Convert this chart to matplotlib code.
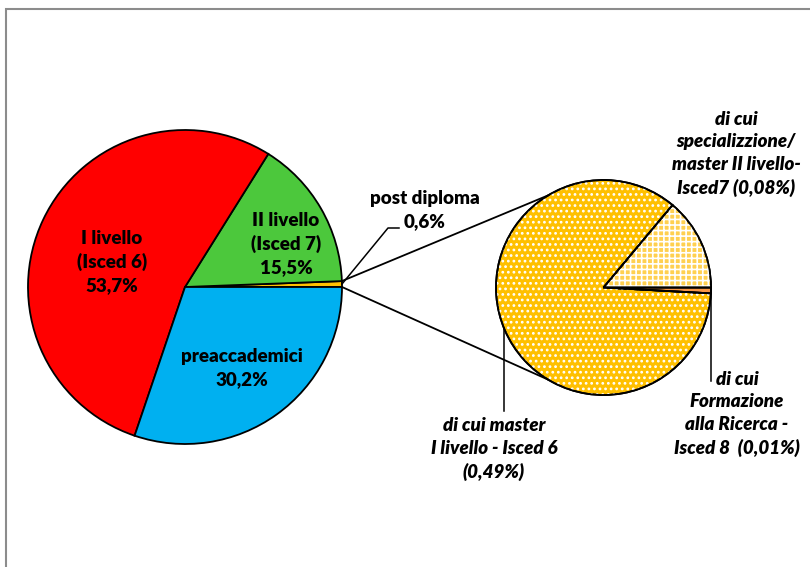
import matplotlib.pyplot as plt
import numpy as np
from matplotlib.patches import Rectangle

# ---------- dati ----------
main_labels = ["post diploma", "II livello", "I livello", "preaccademici"]
main_values = [0.6, 15.5, 53.7, 30.2]
main_texts = ["post diploma\n0,6%", "II livello\n(Isced 7)\n15,5%",
              "I livello\n(Isced 6)\n53,7%", "preaccademici\n30,2%"]
main_colors = ["#FFC000", "#4CC83C", "#FF0000", "#00B0F0"]

sub_labels = ["specializzazione/master II", "master I livello", "Formazione alla Ricerca"]
sub_values = [0.08, 0.49, 0.005]
sub_texts = ["di cui\nspecializzione/\nmaster II livello-\nIsced7 (0,08%)",
             "di cui master\nI livello - Isced 6\n(0,49%)",
             "di cui\nFormazione\nalla Ricerca -\nIsced 8  (0,01%)"]
sub_colors = ["#FFD050", "#FFC000", "#F79646"]
sub_hatch = ["+++", "...", None]

W, H = 810, 567
plt.rcParams['font.family'] = ['Lato', 'DejaVu Sans']
plt.rcParams['hatch.linewidth'] = 1.2

fig = plt.figure(figsize=(W / 100, H / 100), dpi=100)
ax = fig.add_axes([0, 0, 1, 1])

# torta principale
c1, r1 = (185, H - 287), 157
w1, _ = ax.pie(main_values, colors=main_colors, startangle=0, counterclock=True,
               center=c1, radius=r1,
               wedgeprops=dict(edgecolor="black", linewidth=1.3))

# torta secondaria (dettaglio post diploma)
c2, r2 = (603.5, H - 287.5), 107.5
w2, _ = ax.pie(sub_values, colors=sub_colors, startangle=0, counterclock=True,
               center=c2, radius=r2,
               wedgeprops=dict(edgecolor="black", linewidth=1.3))
# tratteggio bianco sopra i colori
ov = ax.pie(sub_values, startangle=0, counterclock=True, center=c2, radius=r2,
            colors=["none"] * 3)[0]
for h, o in zip(sub_hatch, ov):
    if h:
        o.set_hatch(h)
        o.set_edgecolor("white")
        o.set_linewidth(0)
    else:
        o.set_visible(False)
# bordo nero sopra il tratteggio
ax.pie(sub_values, startangle=0, counterclock=True, center=c2, radius=r2,
       colors=["none"] * 3, wedgeprops=dict(edgecolor="black", linewidth=1.3))


def pt(c, r, ang):
    a = np.deg2rad(ang)
    return c[0] + r * np.cos(a), c[1] + r * np.sin(a)


# linee di collegamento
a_post = main_values[0] / sum(main_values) * 360
p_top = pt(c1, r1, a_post)
p_bot = pt(c1, r1, 0)
q_top = pt(c2, r2, 121)
q_bot = pt(c2, r2, 239)
ax.plot([p_top[0], q_top[0]], [p_top[1], q_top[1]], color="black", lw=1.3)
ax.plot([p_bot[0], q_bot[0]], [p_bot[1], q_bot[1]], color="black", lw=1.3)

# etichette torta principale
bold = dict(fontsize=13.5, fontweight="heavy", ha="center", va="center",
            linespacing=1.4)
ax.text(112, H - 262, main_texts[2], **bold)
ax.text(286, H - 244, main_texts[1], **bold)
ax.text(242, H - 368, main_texts[3], **bold)
ax.text(425, H - 210, main_texts[0], **bold)
p_mid = pt(c1, r1, a_post / 2)
ax.plot([p_mid[0], 388, 399], [p_mid[1], H - 228, H - 228], color="black", lw=1.1)

# etichette torta secondaria
ital = dict(fontsize=13.5, fontweight="heavy", style="italic", ha="center",
            va="center", linespacing=1.4)
ax.text(736, H - 154, sub_texts[0], **ital)
ax.text(494, H - 449, sub_texts[1], **ital)
ax.text(737, H - 414, sub_texts[2], **ital)

m = pt(c2, r2, 202)
ax.plot([m[0], m[0]], [m[1], H - 411], color="black", lw=1.1)
f = pt(c2, r2, -1.5)
ax.plot([f[0], f[0]], [f[1], H - 381], color="black", lw=1.1)

ax.set_xlim(0, W)
ax.set_ylim(0, H)
ax.set_aspect("equal")
ax.axis("off")

# cornice dell'area grafico
fig.patches.append(Rectangle((6 / W, -0.1), 1.2, (H - 9) / H + 0.1,
                             transform=fig.transFigure, fill=False,
                             edgecolor="#8C8C8C", linewidth=1.5))

fig.savefig("out.png", dpi=100)
